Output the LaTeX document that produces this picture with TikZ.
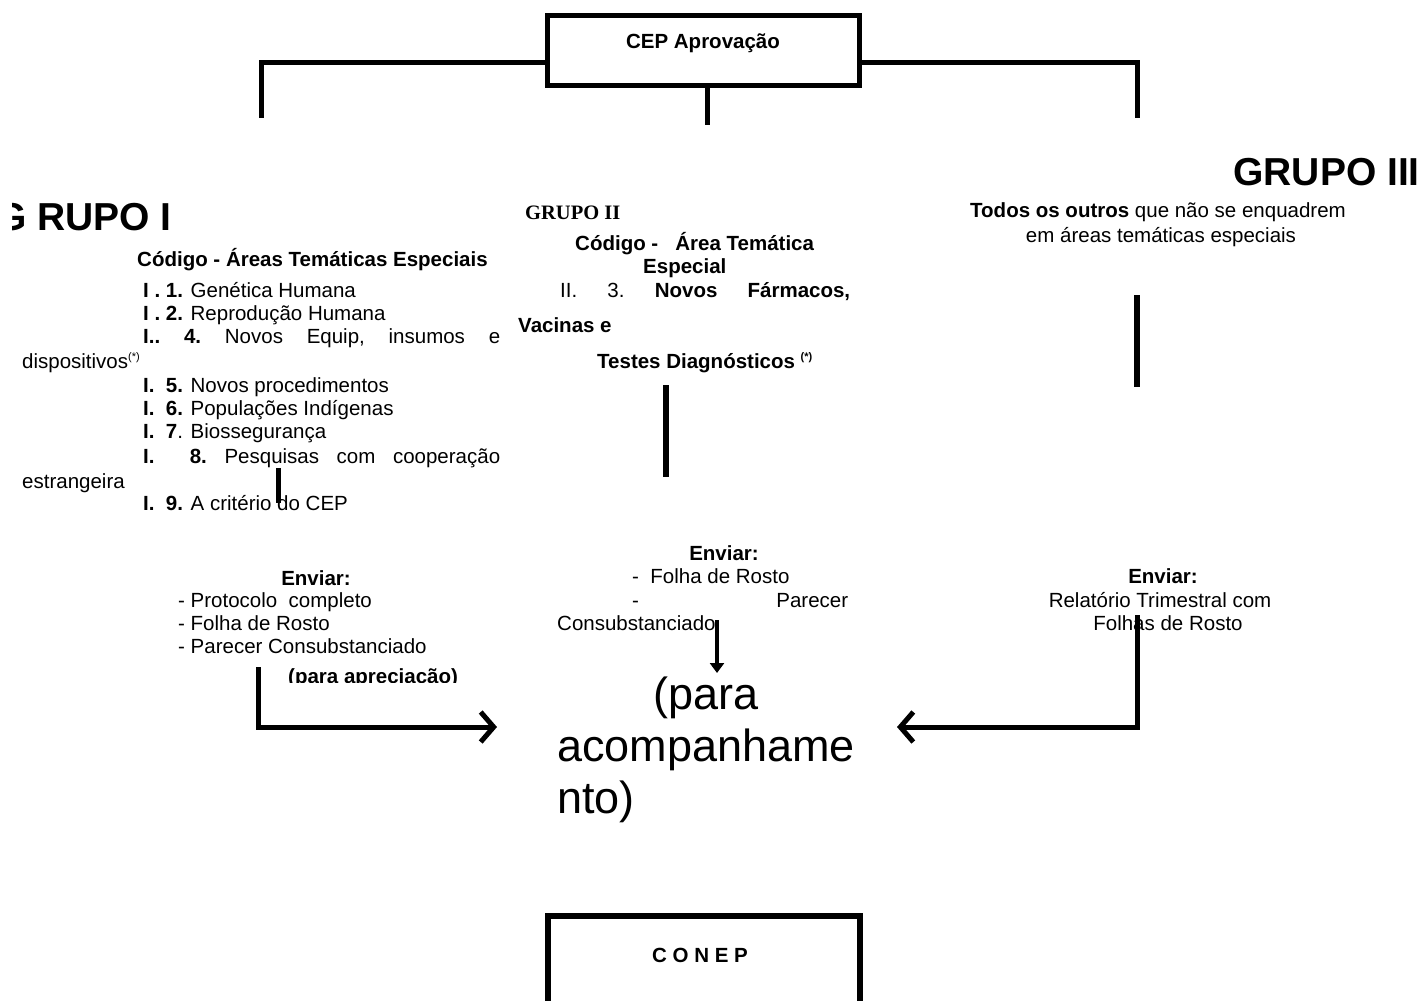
\documentclass[tikz,border=0pt]{standalone}
\usepackage{fontspec}
\setmainfont{Liberation Sans}
\newfontfamily\timesf{Liberation Serif}
\usetikzlibrary{arrows.meta}
\tikzset{
  txt/.style={font=\fontsize{20.5}{23.5}\selectfont, inner sep=0pt, anchor=base west},
  ctxt/.style={txt, anchor=base},
  big/.style={font=\fontsize{39}{44}\selectfont\bfseries, inner sep=0pt, anchor=base west},
  huge/.style={font=\fontsize{45}{52}\selectfont, inner sep=0pt, anchor=base west},
  frame/.style={draw, line width=5.5pt, rectangle, inner sep=0pt},
  conn/.style={line width=5pt},
  stub/.style={line width=5.5pt},
  bigarrow/.style={line width=5pt, -{Straight Barb[length=13pt,width=30pt]}},
  smallarrow/.style={line width=4.5pt, -{Triangle[length=10pt,width=14pt]}}
}
\newcommand{\supx}[1]{\raisebox{8pt}{\fontsize{11}{12}\selectfont #1}}
\begin{document}
\begin{tikzpicture}[x=1pt,y=-1pt]
\fill[white] (0,0) rectangle (1427,1001);
\clip (0,0) rectangle (1427,1001);

% CEP box
\node[frame, minimum width=312pt, minimum height=70pt] (cep) at (703.5,50.5) {};
\node[ctxt, font=\fontsize{20.5}{23.5}\selectfont\bfseries] (ceptext) at (703,48) {CEP Aprovação};

\coordinate (g1top) at (261,118);
\coordinate (g2top) at (707,125);
\coordinate (g3top) at (1137,118);
\draw[conn] (cep.west |- 0,62) -| (g1top);
\draw[conn] (cep.east |- 0,62) -| (g3top);
\draw[conn] (cep.south -| g2top) -- (g2top);

% GRUPO headings
\begin{scope}
\clip (12,150) rectangle (300,260);
\node[big] (grupo1) at (-4,230) {G RUPO I};
\end{scope}
\node[big, anchor=base east] (grupo3) at (1420,185) {GRUPO III};
\node[txt, font=\timesf\fontsize{20.5}{23.5}\selectfont\bfseries] (grupo2) at (525,219) {GRUPO II};

% Group I list
\node[txt, font=\fontsize{20.5}{23.5}\selectfont\bfseries] (g1head) at (137,266) {Código - Áreas Temáticas Especiais};
\node[txt] (l1) at (143,297) {\textbf{I . 1.} Genética Humana};
\node[txt] (l2) at (143,320) {\textbf{I . 2.} Reprodução Humana};
\node[txt] (l4) at (143,343) {\makebox[357pt]{\textbf{I..}\hfill\textbf{4.}\hfill Novos\hfill Equip,\hfill insumos\hfill e}};
\node[txt] (l4b) at (22,368) {dispositivos\supx{(*)}};
\node[txt] (l5) at (143,392) {\textbf{I.}\ \ \textbf{5.} Novos procedimentos};
\node[txt] (l6) at (143,415) {\textbf{I.}\ \ \textbf{6.} Populações Indígenas};
\node[txt] (l7) at (143,438) {\textbf{I.}\ \ \textbf{7}. Biossegurança};
\node[txt] (l8) at (143,463) {\makebox[357pt]{\textbf{I.}\hfill\hfill\textbf{8.}\hfill Pesquisas\hfill com\hfill cooperação}};
\node[txt] (l8b) at (22,488) {estrangeira};
\node[txt] (l9) at (143,510) {\textbf{I.}\ \ \textbf{9.} A critério do CEP};

\coordinate (s1a) at (278.5,468);
\coordinate (s1b) at (278.5,503);
\draw[stub] (s1a) -- (s1b);

% Group II list
\node[txt, font=\fontsize{20.5}{23.5}\selectfont\bfseries] (g2head) at (575,250) {Código -\ \ \ Área Temática};
\node[txt, font=\fontsize{20.5}{23.5}\selectfont\bfseries] (g2head2) at (643,273) {Especial};
\node[txt] (m1) at (560,297) {\makebox[290pt]{II.\hfill 3.\hfill\textbf{Novos}\hfill\textbf{Fármacos,}}};
\node[txt, font=\fontsize{20.5}{23.5}\selectfont\bfseries] (m2) at (518,332) {Vacinas e};
\node[txt, font=\fontsize{20.5}{23.5}\selectfont\bfseries] (m3) at (597,368) {Testes Diagnósticos \supx{(*)}};

\coordinate (s2a) at (666,385);
\coordinate (s2b) at (666,477);
\draw[stub] (s2a) -- (s2b);

% Group III text
\node[ctxt] (r1) at (1158,217) {\textbf{Todos os outros} que não se enquadrem};
\node[ctxt] (r2) at (1161,242) {em áreas temáticas especiais};
\coordinate (s3a) at (1137,295);
\coordinate (s3b) at (1137,387);
\draw[stub] (s3a) -- (s3b);

% Enviar blocks
\node[ctxt, font=\fontsize{20.5}{23.5}\selectfont\bfseries] (e1) at (316,585) {Enviar:};
\node[txt] (e1a) at (178,607) {- Protocolo\ \ completo};
\node[txt] (e1b) at (178,630) {- Folha de Rosto};
\node[txt] (e1c) at (178,653) {- Parecer Consubstanciado};
\begin{scope}
\clip (150,600) rectangle (520,682);
\node[txt, font=\fontsize{20.5}{23.5}\selectfont\bfseries] (e1d) at (288,683) {(para apreciação)};
\end{scope}

\node[ctxt, font=\fontsize{20.5}{23.5}\selectfont\bfseries] (e2) at (724,560) {Enviar:};
\node[txt] (e2a) at (632,583) {-\ \ Folha de Rosto};
\node[txt] (e2b) at (632,607) {\makebox[216pt]{-\hfill Parecer}};
\node[txt] (e2c) at (557,630) {Consubstanciado};

\node[huge, anchor=base] (ac1) at (706,709) {(para};
\node[huge] (ac2) at (557,761) {acompanhame};
\node[huge] (ac3) at (557,813) {nto)};

\node[ctxt, font=\fontsize{20.5}{23.5}\selectfont\bfseries] (e3) at (1163,583) {Enviar:};
\node[ctxt] (e3a) at (1160,607) {Relatório Trimestral com};
\node[ctxt] (e3b) at (1168,630) {Folhas de Rosto};

% arrows
\coordinate (g1bot) at (258,667);
\coordinate (arrL) at (497,727);
\coordinate (g3bot) at (1137,615);
\coordinate (arrR) at (897,727);
\coordinate (g2bot) at (717,620);
\coordinate (arrM) at (717,673);
\draw[bigarrow] (g1bot) |- (arrL);
\draw[bigarrow] (g3bot) |- (arrR);
\draw[smallarrow] (g2bot) -- (arrM);

% CONEP box
\node[frame, minimum width=312pt, minimum height=110pt] (conep) at (704,971) {};
\node[ctxt, font=\fontsize{20.5}{23.5}\selectfont\bfseries] (coneptext) at (700,962) {C\ O\ N\ E\ P};
\end{tikzpicture}
\end{document}
